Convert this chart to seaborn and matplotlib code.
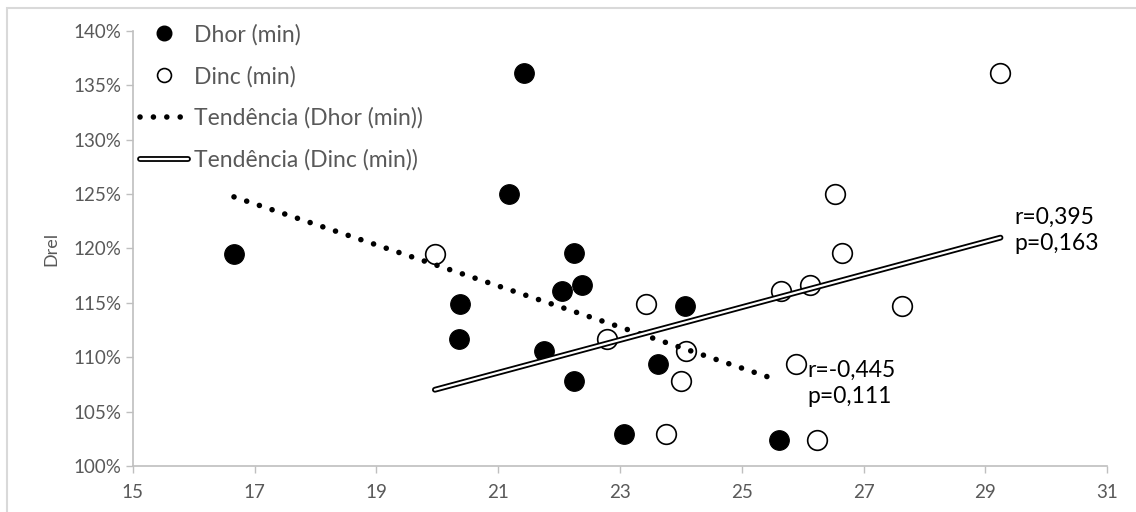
import numpy as np
import pandas as pd
import matplotlib
matplotlib.use("Agg")
import matplotlib.pyplot as plt
from matplotlib.lines import Line2D
from matplotlib.ticker import PercentFormatter, MultipleLocator
import seaborn as sns

# Data
drel = [119.5, 136.1, 125.0, 114.9, 111.7, 110.6, 116.1, 119.6, 116.6, 107.8, 102.9, 109.4, 114.7, 102.4]
dhor_min = [16.66, 21.42, 21.17, 20.37, 20.35, 21.75, 22.04, 22.24, 22.37, 22.24, 23.06, 23.62, 24.06, 25.62]
dinc_min = [19.96, 29.25, 26.53, 23.42, 22.78, 24.08, 25.64, 26.64, 26.12, 24.00, 23.75, 25.89, 27.63, 26.23]
x_ticks = [15, 17, 19, 21, 23, 25, 27, 29, 31]
stats_dhor = "r=-0,445\np=0,111"
stats_dinc = "r=0,395\np=0,163"

sns.set_style("white")
plt.rcParams["font.family"] = ["Lato", "DejaVu Sans"]
gray = "#595959"
spine = "#BFBFBF"

fig = plt.figure(figsize=(11.36, 5.12), dpi=100)
ax = fig.add_axes([0.117, 0.0898, 0.8575, 0.8497])

df = pd.DataFrame({"dhor": dhor_min, "dinc": dinc_min, "drel": drel})

sns.scatterplot(data=df, x="dhor", y="drel", ax=ax, s=200, color="black",
                edgecolor="black", linewidth=0.8, zorder=3, legend=False)
sns.scatterplot(data=df, x="dinc", y="drel", ax=ax, s=200, facecolor="white",
                edgecolor="black", linewidth=1.2, zorder=3, legend=False)

# trend lines
def trend(xs, ys):
    xs = np.asarray(xs); ys = np.asarray(ys)
    b, a = np.polyfit(xs, ys, 1)
    xx = np.array([xs.min(), xs.max()])
    return xx, a + b * xx

dot_style = (0, (0.01, 2.4))
tx, ty = trend(dhor_min, drel)
ax.plot(tx, ty, color="black", lw=4.0, linestyle=dot_style,
        dash_capstyle="round", zorder=4)
ux, uy = trend(dinc_min, drel)
ax.plot(ux, uy, color="black", lw=4.2, solid_capstyle="round", zorder=4)
ax.plot(ux, uy, color="white", lw=1.6, solid_capstyle="round", zorder=5)

ax.text(26.08, 107.6, stats_dhor, fontsize=16.5, color="black", va="center",
        ha="left", linespacing=1.3)
ax.text(29.48, 121.7, stats_dinc, fontsize=16.5, color="black", va="center",
        ha="left", linespacing=1.3)

ax.set_xlim(15, 31)
ax.set_ylim(100, 140)
ax.set_xticks(x_ticks)
ax.yaxis.set_major_locator(MultipleLocator(5))
ax.yaxis.set_major_formatter(PercentFormatter(decimals=0))
ax.tick_params(axis="both", colors=spine, labelcolor=gray, labelsize=13.5,
               direction="out", length=5, width=1, left=True, bottom=True)
ax.tick_params(axis="x", pad=8)
ax.set_xlabel("")
ax.set_ylabel("Drel", color=gray, fontsize=13, labelpad=10)
for s in ["top", "right"]:
    ax.spines[s].set_visible(False)
for s in ["left", "bottom"]:
    ax.spines[s].set_color(spine)
    ax.spines[s].set_linewidth(1.2)

h1 = Line2D([], [], marker="o", color="black", linestyle="none", markersize=10.5)
h2 = Line2D([], [], marker="o", markerfacecolor="white", markeredgecolor="black",
            linestyle="none", markersize=10, markeredgewidth=1.2)
h3 = Line2D([], [], color="black", lw=4.0, linestyle=dot_style,
            dash_capstyle="round")
h4a = Line2D([], [], color="black", lw=4.2, solid_capstyle="round")
h4b = Line2D([], [], color="white", lw=1.6, solid_capstyle="round")
leg = ax.legend([h1, h2, h3, (h4a, h4b)],
                ["Dhor (min)", "Dinc (min)", "Tendência (Dhor (min))", "Tendência (Dinc (min))"],
                loc="upper left", bbox_to_anchor=(140 / 1136, 1 - 24 / 512),
                bbox_transform=fig.transFigure, borderaxespad=0, borderpad=0,
                frameon=False, fontsize=16.5, handlelength=2.1, handletextpad=0.25,
                labelspacing=0.88, labelcolor=gray)

fig.patches.append(plt.Rectangle((7 / 1136, -0.05), 1.1, 1.05 - 8 / 512 , transform=fig.transFigure,
                                 fill=False, edgecolor="#D9D9D9", lw=1.5))
fig.savefig("out.png", dpi=100)
